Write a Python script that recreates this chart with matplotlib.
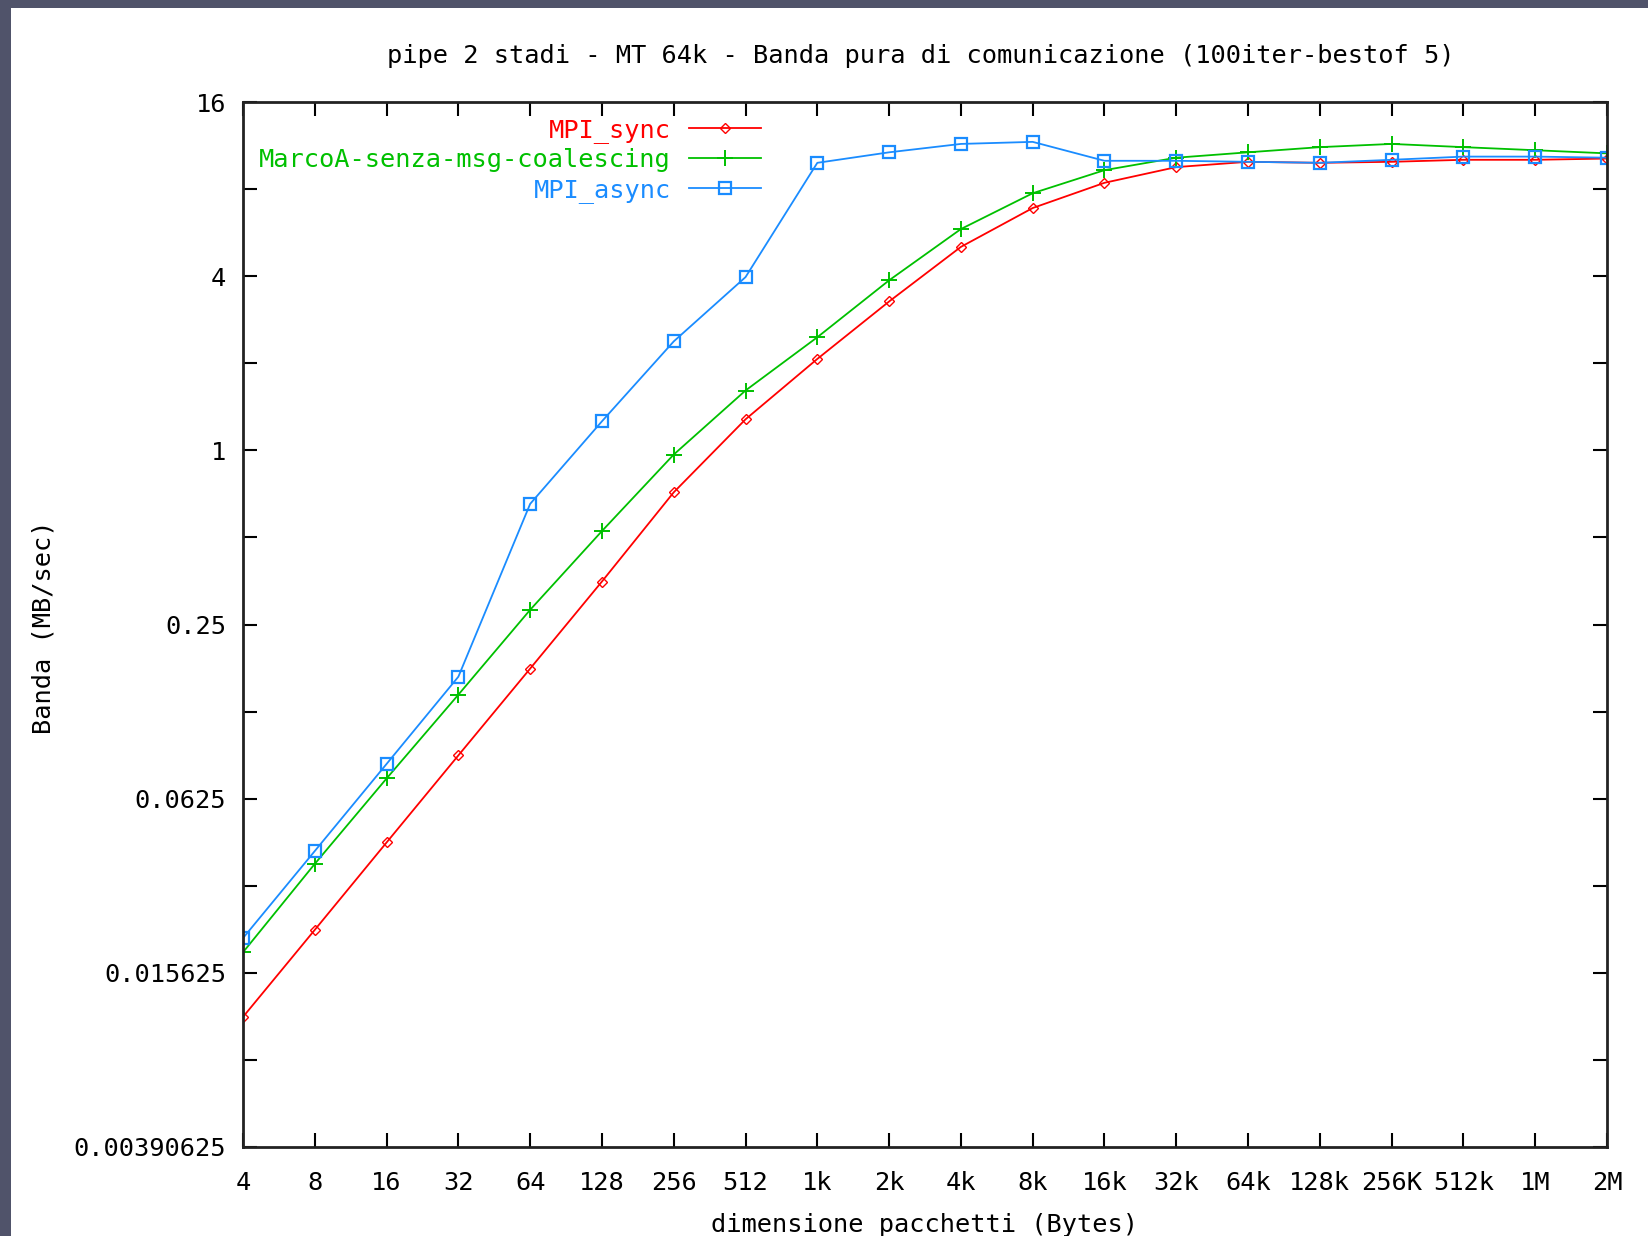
import matplotlib
matplotlib.use("Agg")
import matplotlib.pyplot as plt
from matplotlib.patches import Rectangle
import numpy as np

# ---- data ----
sizes = ["4", "8", "16", "32", "64", "128", "256", "512", "1k", "2k", "4k", "8k",
         "16k", "32k", "64k", "128k", "256K", "512k", "1M", "2M"]
mpi_sync = [0.0110, 0.0220, 0.0441, 0.0882, 0.176, 0.352, 0.716, 1.28, 2.07, 3.27,
            5.05, 6.88, 8.41, 9.53, 9.94, 9.86, 9.94, 10.1, 10.1, 10.2]
marcoa = [0.0184, 0.0372, 0.0734, 0.143, 0.281, 0.526, 0.967, 1.61, 2.46, 3.87,
          5.82, 7.74, 9.30, 10.27, 10.72, 11.17, 11.46, 11.17, 10.9, 10.63]
mpi_async = [0.0206, 0.0412, 0.0824, 0.165, 0.653, 1.26, 2.38, 3.97, 9.86, 10.72,
             11.46, 11.65, 10.02, 10.02, 9.94, 9.86, 10.1, 10.36, 10.36, 10.27]
series_names = ["MPI_sync", "MarcoA-senza-msg-coalescing", "MPI_async"]
ytick_vals = [2**-8, 2**-6, 2**-4, 2**-2, 1, 4, 16]
ytick_labels = ["0.00390625", "0.015625", "0.0625", "0.25", "1", "4", "16"]
yminor_vals = [2**-7, 2**-5, 2**-3, 2**-1, 2, 8]
title = "pipe 2 stadi - MT 64k - Banda pura di comunicazione (100iter-bestof 5)"
xlabel = "dimensione pacchetti (Bytes)"
ylabel = "Banda (MB/sec)"

W, H = 1648, 1236
font = "DejaVu Sans Mono"
fs = 18.3

fig = plt.figure(figsize=(W / 100, H / 100), dpi=100, facecolor="#50536a")
fig.add_artist(Rectangle((11 / W, 0), 1 - 11 / W, 1 - 8 / H, transform=fig.transFigure,
                         facecolor="white", edgecolor="none", zorder=0))

left, right, top, bottom = 243, 1607, 102, 1147
ax = fig.add_axes([left / W, 1 - bottom / H, (right - left) / W, (bottom - top) / H])
ax.set_facecolor("white")

x = np.arange(len(sizes))
colors = ["#ff0000", "#00c000", "#1a8cff"]
l1, = ax.plot(x, mpi_sync, color=colors[0], lw=1.3, marker="D", ms=5.5,
              mfc="none", mew=1.0, label=series_names[0])
l2, = ax.plot(x, marcoa, color=colors[1], lw=1.3, marker="+", ms=11,
              mew=1.4, label=series_names[1])
l3, = ax.plot(x, mpi_async, color=colors[2], lw=1.3, marker="s", ms=9,
              mfc="none", mew=1.6, label=series_names[2])

ax.set_yscale("log", base=2)
ax.set_ylim(2**-8, 2**4)
ax.set_xlim(0, len(sizes) - 1)
ax.set_yticks(ytick_vals)
ax.set_yticklabels(ytick_labels)
ax.set_yticks(yminor_vals, minor=True)
ax.yaxis.set_minor_formatter(matplotlib.ticker.NullFormatter())
ax.set_xticks(x)
ax.set_xticklabels(sizes)

for lab in ax.get_xticklabels() + ax.get_yticklabels():
    lab.set_fontfamily(font)
    lab.set_fontsize(fs)
ax.tick_params(axis="both", which="both", direction="in", length=10, width=1.5,
               top=True, right=True, color="black")
ax.tick_params(axis="x", pad=17)
ax.tick_params(axis="y", pad=12)
for s in ax.spines.values():
    s.set_linewidth(2)
    s.set_color("#222222")

leg = ax.legend(loc="upper right", bbox_to_anchor=(0.393, 1.002), frameon=False,
                markerfirst=False, prop={"family": font, "size": fs},
                handlelength=2.83, handletextpad=0.72, labelspacing=0.22,
                borderaxespad=0.3)
for t, c in zip(leg.get_texts(), colors):
    t.set_color(c)

fig.text(921 / W, 1 - 56 / H, title, ha="center", va="center", family=font, fontsize=fs)
fig.text(44 / W, 1 - 627 / H, ylabel, ha="center", va="center", rotation=90,
         family=font, fontsize=fs)
fig.text(925 / W, 1 - 1225 / H, xlabel, ha="center", va="center", family=font, fontsize=fs)

fig.savefig("out.png", dpi=100, facecolor=fig.get_facecolor())
